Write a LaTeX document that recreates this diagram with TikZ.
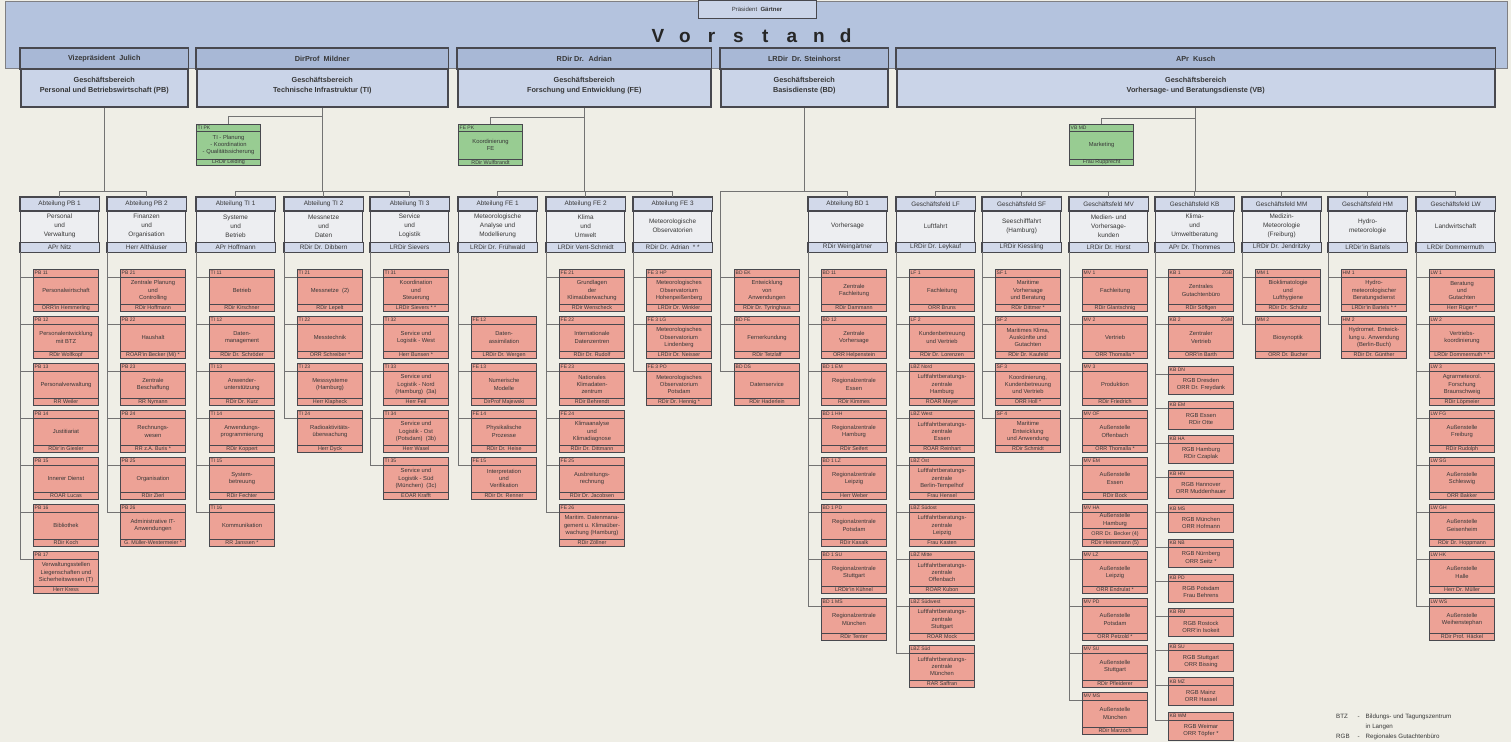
\documentclass[tikz,border=0pt]{standalone}
\usepackage{fontspec}
\setmainfont{Liberation Sans}
\usepackage{tikz}
\usetikzlibrary{positioning,calc}

\definecolor{paper}{RGB}{239,238,230}
\definecolor{bandblue}{RGB}{180,195,222}
\definecolor{gbhead}{RGB}{168,184,214}
\definecolor{gbbody}{RGB}{202,212,232}
\definecolor{depthead}{RGB}{210,217,234}
\definecolor{deptbody}{RGB}{237,238,241}
\definecolor{unitred}{RGB}{237,162,150}
\definecolor{staffgreen}{RGB}{152,204,146}
\definecolor{linegray}{RGB}{115,115,115}
\definecolor{framegray}{RGB}{72,72,78}
\definecolor{inkgray}{RGB}{55,55,55}

\tikzset{
  conn/.style={draw=linegray, line width=0.8pt},
  boxline/.style={draw=framegray, line width=1.2pt},
  unitline/.style={draw=framegray, line width=0.7pt},
  bandbox/.style={draw=framegray!70, line width=0.8pt, fill=bandblue, anchor=north west,
    inner sep=0pt, minimum width=1502pt, minimum height=67pt},
  praesbox/.style={boxline, line width=1pt, fill=gbbody, minimum width=118pt, minimum height=18pt,
    inner sep=0pt, font=\fontsize{6}{7}\selectfont, text=inkgray},
  vorstand/.style={font=\fontsize{19}{19}\selectfont\bfseries, text=black!85, inner sep=0pt, anchor=base},
  gbbox/.style={boxline, line width=1.5pt, fill=gbbody, anchor=north west, minimum height=58pt, inner sep=0pt},
  gbtext/.style={font=\fontsize{7.3}{10}\selectfont\bfseries, text=inkgray, align=center, inner sep=0pt},
  deptbox/.style={boxline, fill=deptbody, anchor=north west, minimum width=78pt, minimum height=54pt, inner sep=0pt},
  depttext/.style={font=\fontsize{6.4}{9}\selectfont, text=inkgray, align=center, inner sep=0pt},
  unitbox/.style={draw=framegray, line width=1pt, fill=unitred, anchor=north west,
    minimum width=65pt, minimum height=42pt, inner sep=0pt},
  staffbox/.style={unitbox, fill=staffgreen, minimum width=64pt, minimum height=41pt},
  unittext/.style={font=\fontsize{5.8}{7.2}\selectfont, text=inkgray, align=center, inner sep=0pt},
  unitfoot/.style={font=\fontsize{5.4}{6.5}\selectfont, text=inkgray, align=center, inner sep=0pt},
  codetext/.style={font=\fontsize{5}{6}\selectfont, text=inkgray, anchor=west, inner sep=0pt},
  legendtext/.style={font=\fontsize{6.2}{10}\selectfont, text=inkgray, anchor=north west, inner sep=0pt},
}

% Geschaeftsbereich: name, x links, x rechts, Leitung, Bereich
\newcommand{\gbereich}[5]{%
  \node[gbbox, minimum width={#3-#2}] (#1) at (#2,48) {};
  \draw[boxline, line width=1.5pt, fill=gbhead] (#1.north west) rectangle ($(#1.north east)+(0,21)$);
  \node[gbtext] (#1-h) at ($(#1.north)+(0,11)$) {#4};
  \node[gbtext] (#1-b) at ($(#1.north)+(0,38)$) {#5};
}

% Abteilung / Geschaeftsfeld: name, x, Kopf, Aufgabe, Leitung
\newcommand{\abteilung}[5]{%
  \node[deptbox] (#1) at (#2,197) {};
  \draw[boxline, fill=depthead] (#1.north west) rectangle ($(#1.north east)+(0,14)$);
  \draw[boxline, fill=depthead] (#1.south west) rectangle ($(#1.south east)+(0,-10)$);
  \node[depttext] (#1-h) at ($(#1.north)+(0,7)$) {#3};
  \node[depttext] (#1-b) at ($(#1.north)+(0,29)$) {#4};
  \node[depttext] (#1-f) at ($(#1.south)+(0,-5)$) {#5};
}

% Referat: name, Ast, x, y, Kennung, Aufgabe, Leitung
\newcommand{\einheit}[7]{%
  \node[unitbox] (#1) at (#3,#4) {};
  \draw[unitline] ($(#1.north west)+(0,8)$) -- ($(#1.north east)+(0,8)$);
  \draw[unitline] ($(#1.south west)+(0,-8)$) -- ($(#1.south east)+(0,-8)$);
  \node[codetext] (#1-c) at ($(#1.north west)+(1.5,4)$) {#5};
  \node[unittext] (#1-b) at (#1.center) {#6};
  \node[unitfoot] (#1-f) at ($(#1.south)+(0,-4)$) {#7};
  \coordinate (#1-in) at ($(#1.north west)+(0,8)$);
  \draw[conn] (#2) |- (#1-in);
}

% Spalte von Referaten unter einer Abteilung
\newcommand{\spalte}[4]{%
  \foreach \cd/\tx/\ch [count=\idx from #3] in {#4} {%
    \pgfmathsetmacro\yy{269+47*\idx}
    \einheit{#1-\idx}{#1.south west}{#2}{\yy}{\cd}{\tx}{\ch}
  }%
}

% kleines Gutachtenbuero (KB): name, Ast, y, Kennung, Text
\newcommand{\gutachten}[5]{%
  \node[unitbox, minimum height=28pt] (#1) at (1168,#3) {};
  \draw[unitline] ($(#1.north west)+(0,8)$) -- ($(#1.north east)+(0,8)$);
  \node[codetext] (#1-c) at ($(#1.north west)+(1.5,4)$) {#4};
  \node[unittext] (#1-b) at ($(#1.center)+(0,4)$) {#5};
  \coordinate (#1-in) at ($(#1.north west)+(0,8)$);
  \draw[conn] (#2) |- (#1-in);
}

% Stabsstelle (gruen): name, x, Kennung, Aufgabe, Leitung
\newcommand{\stab}[5]{%
  \node[staffbox] (#1) at (#2,124) {};
  \draw[unitline] ($(#1.north west)+(0,7)$) -- ($(#1.north east)+(0,7)$);
  \draw[unitline] ($(#1.south west)+(0,-7)$) -- ($(#1.south east)+(0,-7)$);
  \node[codetext] (#1-c) at ($(#1.north west)+(1.5,3.5)$) {#3};
  \node[unittext] (#1-b) at (#1.center) {#4};
  \node[unitfoot] (#1-f) at ($(#1.south)+(0,-3.5)$) {#5};
}

\begin{document}
\begin{tikzpicture}[x=1pt, y=-1pt]
\useasboundingbox (0,0) rectangle (1511,742);
\fill[paper] (0,0) rectangle (1511,742);

% Vorstand
\node[bandbox] (vorstand) at (5,1) {};
\node[praesbox] (praes) at (757,9) {Präsident \ \textbf{Gärtner}};
\foreach \l [count=\i from 0] in {V,o,r,s,t,a,n,d}
  \node[vorstand] (vs\i) at (658+26.8*\i,42) {\l};

% Geschaeftsbereiche
\gbereich{gbPB}{20}{187}{Vizepräsident \ Julich}{Geschäftsbereich\\Personal und Betriebswirtschaft (PB)}
\gbereich{gbTI}{196}{447}{DirProf \ Mildner}{Geschäftsbereich\\Technische Infrastruktur (TI)}
\gbereich{gbFE}{457}{710}{RDir Dr. \ Adrian}{Geschäftsbereich\\Forschung und Entwicklung (FE)}
\gbereich{gbBD}{720}{887}{LRDir \ Dr. Steinhorst}{Geschäftsbereich\\Basisdienste (BD)}
\gbereich{gbVB}{896}{1494}{APr \ Kusch}{Geschäftsbereich\\Vorhersage- und Beratungsdienste (VB)}

% Stabsstellen
\draw[conn] (gbTI.south) ++(0,9) -| (228,124) coordinate (tipk-top);
\draw[conn] (gbFE.south) ++(0,10) -| (490,125) coordinate (fepk-top);
\draw[conn] (gbVB.south) ++(0,11) -| (1101,125) coordinate (vbmd-top);
\stab{tipk}{196}{TI PK}{TI - Planung\\- Koordination\\- Qualitätssicherung}{LRDir Leiding}
\stab{fepk}{458}{FE PK}{Koordinierung\\FE}{RDir Wulfbrandt}
\stab{vbmd}{1069}{VB MD}{Marketing}{Frau Rupprecht}

% Abteilungen und Geschaeftsfelder
\abteilung{pb1}{20}{Abteilung PB 1}{Personal\\und\\Verwaltung}{APr Nitz}
\abteilung{pb2}{107}{Abteilung PB 2}{Finanzen\\und\\Organisation}{Herr Althäuser}
\abteilung{ti1}{196}{Abteilung TI 1}{Systeme\\und\\Betrieb}{APr Hoffmann}
\abteilung{ti2}{284}{Abteilung TI 2}{Messnetze\\und\\Daten}{RDir Dr. Dibbern}
\abteilung{ti3}{370}{Abteilung TI 3}{Service\\und\\Logistik}{LRDir Sievers}
\abteilung{fe1}{458}{Abteilung FE 1}{Meteorologische\\Analyse und\\Modellierung}{LRDir Dr. Frühwald}
\abteilung{fe2}{546}{Abteilung FE 2}{Klima\\und\\Umwelt}{LRDir Vent-Schmidt}
\abteilung{fe3}{633}{Abteilung FE 3}{Meteorologische\\Observatorien}{RDir Dr. Adrian \ * *}
\abteilung{bd1}{808}{Abteilung BD 1}{Vorhersage}{RDir Weingärtner}
\abteilung{lf}{896}{Geschäftsfeld LF}{Luftfahrt}{LRDir Dr. Leykauf}
\abteilung{sf}{982}{Geschäftsfeld SF}{Seeschifffahrt\\(Hamburg)}{LRDir Kiessling}
\abteilung{mv}{1069}{Geschäftsfeld MV}{Medien- und\\Vorhersage-\\kunden}{LRDir Dr. Horst}
\abteilung{kb}{1155}{Geschäftsfeld KB}{Klima-\\und\\Umweltberatung}{APr Dr. Thommes}
\abteilung{mm}{1242}{Geschäftsfeld MM}{Medizin-\\Meteorologie\\(Freiburg)}{LRDir Dr. Jendritzky}
\abteilung{hm}{1328}{Geschäftsfeld HM}{Hydro-\\meteorologie}{LRDir'in Bartels}
\abteilung{lw}{1416}{Geschäftsfeld LW}{Landwirtschaft}{LRDir Dommermuth}

% Verbindungen Geschaeftsbereich -> Abteilungen
\draw[conn] (gbPB.south) -- ++(0,84) coordinate (barPB);
\foreach \d in {pb1,pb2} \draw[conn] (barPB) -| (\d.north);
\draw[conn] (gbTI.south) -- ++(0,84) coordinate (barTI);
\foreach \d in {ti1,ti2,ti3} \draw[conn] (barTI) -| (\d.north);
\draw[conn] (gbFE.south) -- ++(0,84) coordinate (barFE);
\foreach \d in {fe1,fe2,fe3} \draw[conn] (barFE) -| (\d.north);
\draw[conn] (gbBD.south) -- ++(0,84) coordinate (barBD);
\coordinate (bdst) at (gbBD.south west |- barBD);
\draw[conn] (barBD) -| (bd1.north);
\draw[conn] (barBD) -- (bdst);
\draw[conn] (gbVB.south) -- ++(0,84) coordinate (barVB);
\foreach \d in {lf,sf,mv,kb,mm,hm,lw} \draw[conn] (barVB) -| (\d.north);

% Referate PB
\spalte{pb1}{33}{0}{
  {PB 11}/{Personalwirtschaft}/{ORR'in Hemmerling},
  {PB 12}/{Personalentwicklung\\mit BTZ}/{RDir Wolfkopf},
  {PB 13}/{Personalverwaltung}/{RR Weiler},
  {PB 14}/{Justitiariat}/{RDir'in Giesler},
  {PB 15}/{Innerer Dienst}/{ROAR Lucas},
  {PB 16}/{Bibliothek}/{RDir Koch},
  {PB 17}/{Verwaltungsstellen\\Liegenschaften und\\Sicherheitswesen (T)}/{Herr Kress}}
\spalte{pb2}{120}{0}{
  {PB 21}/{Zentrale Planung\\und\\Controlling}/{RDir Hoffmann},
  {PB 22}/{Haushalt}/{ROAR'in Becker (Mi) *},
  {PB 23}/{Zentrale\\Beschaffung}/{RR Nymann},
  {PB 24}/{Rechnungs-\\wesen}/{RR z.A. Buris *},
  {PB 25}/{Organisation}/{RDir Zierl},
  {PB 26}/{Administrative IT-\\Anwendungen}/{G. Müller-Westermeier *}}

% Referate TI
\spalte{ti1}{209}{0}{
  {TI 11}/{Betrieb}/{RDir Kirschner},
  {TI 12}/{Daten-\\management}/{RDir Dr. Schröder},
  {TI 13}/{Anwender-\\unterstützung}/{RDir Dr. Kurz},
  {TI 14}/{Anwendungs-\\programmierung}/{RDir Koppert},
  {TI 15}/{System-\\betreuung}/{RDir Fechter},
  {TI 16}/{Kommunikation}/{RR Janssen *}}
\spalte{ti2}{297}{0}{
  {TI 21}/{Messnetze \ (2)}/{RDir Lepelt},
  {TI 22}/{Messtechnik}/{ORR Schreiber *},
  {TI 23}/{Messsysteme\\(Hamburg)}/{Herr Klapheck},
  {TI 24}/{Radioaktivitäts-\\überwachung}/{Herr Dyck}}
\spalte{ti3}{383}{0}{
  {TI 31}/{Koordination\\und\\Steuerung}/{LRDir Sievers * *},
  {TI 32}/{Service und\\Logistik - West}/{Herr Bunsen *},
  {TI 33}/{Service und\\Logistik - Nord\\(Hamburg) \ (3a)}/{Herr Feil},
  {TI 34}/{Service und\\Logistik - Ost\\(Potsdam) \ (3b)}/{Herr Wasel},
  {TI 35}/{Service und\\Logistik - Süd\\(München) \ (3c)}/{EOAR Krafft}}

% Referate FE
\spalte{fe1}{471}{1}{
  {FE 12}/{Daten-\\assimilation}/{LRDir Dr. Wergen},
  {FE 13}/{Numerische\\Modelle}/{DirProf Majewski},
  {FE 14}/{Physikalische\\Prozesse}/{RDir Dr. Heise},
  {FE 15}/{Interpretation\\und\\Verifikation}/{RDir Dr. Renner}}
\spalte{fe2}{559}{0}{
  {FE 21}/{Grundlagen\\der\\Klimaüberwachung}/{RDir Wenscheck},
  {FE 22}/{Internationale\\Datenzentren}/{RDir Dr. Rudolf},
  {FE 23}/{Nationales\\Klimadaten-\\zentrum}/{RDir Behrendt},
  {FE 24}/{Klimaanalyse\\und\\Klimadiagnose}/{RDir Dr. Dittmann},
  {FE 25}/{Ausbreitungs-\\rechnung}/{RDir Dr. Jacobsen},
  {FE 26}/{Maritim. Datenmana-\\gement u. Klimaüber-\\wachung (Hamburg)}/{RDir Zöllner}}
\spalte{fe3}{646}{0}{
  {FE 3 HP}/{Meteorologisches\\Observatorium\\Hohenpeißenberg}/{LRDir Dr. Winkler},
  {FE 3 LG}/{Meteorologisches\\Observatorium\\Lindenberg}/{LRDir Dr. Neisser},
  {FE 3 PO}/{Meteorologisches\\Observatorium\\Potsdam}/{RDir Dr. Hennig *}}

% Referate BD
\foreach \cd/\tx/\ch [count=\idx from 0] in {
  {BD EK}/{Entwicklung\\von\\Anwendungen}/{RDir Dr. Tyringhaus},
  {BD FE}/{Fernerkundung}/{RDir Tetzlaff},
  {BD DS}/{Datenservice}/{RDir Haderlein}} {%
  \pgfmathsetmacro\yy{269+47*\idx}
  \einheit{bd0-\idx}{bdst}{734}{\yy}{\cd}{\tx}{\ch}
}
\spalte{bd1}{821}{0}{
  {BD 11}/{Zentrale\\Fachleitung}/{RDir Dammann},
  {BD 12}/{Zentrale\\Vorhersage}/{ORR Helpenstein},
  {BD 1 EM}/{Regionalzentrale\\Essen}/{RDir Kimmes},
  {BD 1 HH}/{Regionalzentrale\\Hamburg}/{RDir Seifert},
  {BD 1 LZ}/{Regionalzentrale\\Leipzig}/{Herr Weber},
  {BD 1 PD}/{Regionalzentrale\\Potsdam}/{RDir Kasalk},
  {BD 1 SU}/{Regionalzentrale\\Stuttgart}/{LRDir'in Kühnel},
  {BD 1 MS}/{Regionalzentrale\\München}/{RDir Tenter}}

% Referate VB
\spalte{lf}{909}{0}{
  {LF 1}/{Fachleitung}/{ORR Bruns},
  {LF 2}/{Kundenbetreuung\\und Vertrieb}/{RDir Dr. Lorenzen},
  {LBZ Nord}/{Luftfahrtberatungs-\\zentrale\\Hamburg}/{ROAR Meyer},
  {LBZ West}/{Luftfahrtberatungs-\\zentrale\\Essen}/{ROAR Reinhart},
  {LBZ Ost}/{Luftfahrtberatungs-\\zentrale\\Berlin-Tempelhof}/{Frau Hensel},
  {LBZ Südost}/{Luftfahrtberatungs-\\zentrale\\Leipzig}/{Frau Kasten},
  {LBZ Mitte}/{Luftfahrtberatungs-\\zentrale\\Offenbach}/{ROAR Kubon},
  {LBZ Südwest}/{Luftfahrtberatungs-\\zentrale\\Stuttgart}/{ROAR Mock},
  {LBZ Süd}/{Luftfahrtberatungs-\\zentrale\\München}/{RAR Saffran}}
\spalte{sf}{995}{0}{
  {SF 1}/{Maritime\\Vorhersage\\und Beratung}/{RDir Dittmer *},
  {SF 2}/{Maritimes Klima,\\Auskünfte und\\Gutachten}/{RDir Dr. Kaufeld},
  {SF 3}/{Koordinierung,\\Kundenbetreuung\\und Vertrieb}/{ORR Holl *},
  {SF 4}/{Maritime\\Entwicklung\\und Anwendung}/{RDir Schmidt}}
\spalte{mv}{1082}{0}{
  {MV 1}/{Fachleitung}/{RDir Glantschnig},
  {MV 2}/{Vertrieb}/{ORR Thomalla *},
  {MV 3}/{Produktion}/{RDir Friedrich},
  {MV OF}/{Außenstelle\\Offenbach}/{ORR Thomalla *},
  {MV EM}/{Außenstelle\\Essen}/{RDir Bock}}
\einheit{mv-5}{mv.south west}{1082}{504}{MV HA}{}{RDir Heinemann (5)}
\node[unittext] (mv-5-b2) at ($(mv-5.north)+(0,16)$) {Außenstelle\\Hamburg};
\draw[unitline] ($(mv-5.north west)+(0,24)$) -- ($(mv-5.north east)+(0,24)$);
\node[unitfoot] (mv-5-f2) at ($(mv-5.south)+(0,-13)$) {ORR Dr. Becker (4)};
\spalte{mv}{1082}{6}{
  {MV LZ}/{Außenstelle\\Leipzig}/{ORR Endrulat *},
  {MV PD}/{Außenstelle\\Potsdam}/{ORR Petzold *},
  {MV SU}/{Außenstelle\\Stuttgart}/{RDir Pfleiderer},
  {MV MS}/{Außenstelle\\München}/{RDir Marzoch}}
\spalte{kb}{1168}{0}{
  {KB 1}/{Zentrales\\Gutachtenbüro}/{RDir Söffgen},
  {KB 2}/{Zentraler\\Vertrieb}/{ORR'in Barth}}
\node[codetext, anchor=east] (kb-0-r) at ($(kb-0.north east)+(-1.5,4)$) {ZGB};
\node[codetext, anchor=east] (kb-1-r) at ($(kb-1.north east)+(-1.5,4)$) {ZGM};
\foreach \cd/\tx [count=\idx from 0] in {
  {KB DN}/{RGB Dresden\\ORR Dr. Freydank},
  {KB EM}/{RGB Essen\\RDir Otte},
  {KB HA}/{RGB Hamburg\\RDir Czaplak},
  {KB HN}/{RGB Hannover\\ORR Muddenhauer},
  {KB MS}/{RGB München\\ORR Hofmann},
  {KB NB}/{RGB Nürnberg\\ORR Seitz *},
  {KB PD}/{RGB Potsdam\\Frau Behrens},
  {KB RM}/{RGB Rostock\\ORR'in Isokeit},
  {KB SU}/{RGB Stuttgart\\ORR Bissing},
  {KB MZ}/{RGB Mainz\\ORR Hassel},
  {KB WM}/{RGB Weimar\\ORR Töpfer *}} {%
  \pgfmathsetmacro\yy{366+34.6*\idx}
  \gutachten{kb-r\idx}{kb.south west}{\yy}{\cd}{\tx}
}
\spalte{mm}{1255}{0}{
  {MM 1}/{Bioklimatologie\\und\\Lufthygiene}/{RDir Dr. Schultz},
  {MM 2}/{Biosynoptik}/{ORR Dr. Bucher}}
\spalte{hm}{1341}{0}{
  {HM 1}/{Hydro-\\meteorologischer\\Beratungsdienst}/{LRDir'in Bartels * *},
  {HM 2}/{Hydromet. Entwick-\\lung u. Anwendung\\(Berlin-Buch)}/{RDir Dr. Günther}}
\spalte{lw}{1429}{0}{
  {LW 1}/{Beratung\\und\\Gutachten}/{Herr Rüger *},
  {LW 2}/{Vertriebs-\\koordinierung}/{LRDir Dommermuth * *},
  {LW 3}/{Agrarmeteorol.\\Forschung\\Braunschweig}/{RDir Löpmeier},
  {LW FG}/{Außenstelle\\Freiburg}/{RDir Rudolph},
  {LW SG}/{Außenstelle\\Schleswig}/{ORR Bakker},
  {LW GH}/{Außenstelle\\Geisenheim}/{RDir Dr. Hoppmann},
  {LW HK}/{Außenstelle\\Halle}/{Herr Dr. Müller},
  {LW WS}/{Außenstelle\\Weihenstephan}/{RDir Prof. Häckel}}

% Legende
\node[legendtext] (legende) at (1336,711) {%
  \begin{tabular}{@{}l@{\hspace{8pt}}c@{\hspace{6pt}}l@{}}
    BTZ & - & Bildungs- und Tagungszentrum\\
        &   & in Langen\\
    RGB & - & Regionales Gutachtenbüro
  \end{tabular}};
\end{tikzpicture}
\end{document}
